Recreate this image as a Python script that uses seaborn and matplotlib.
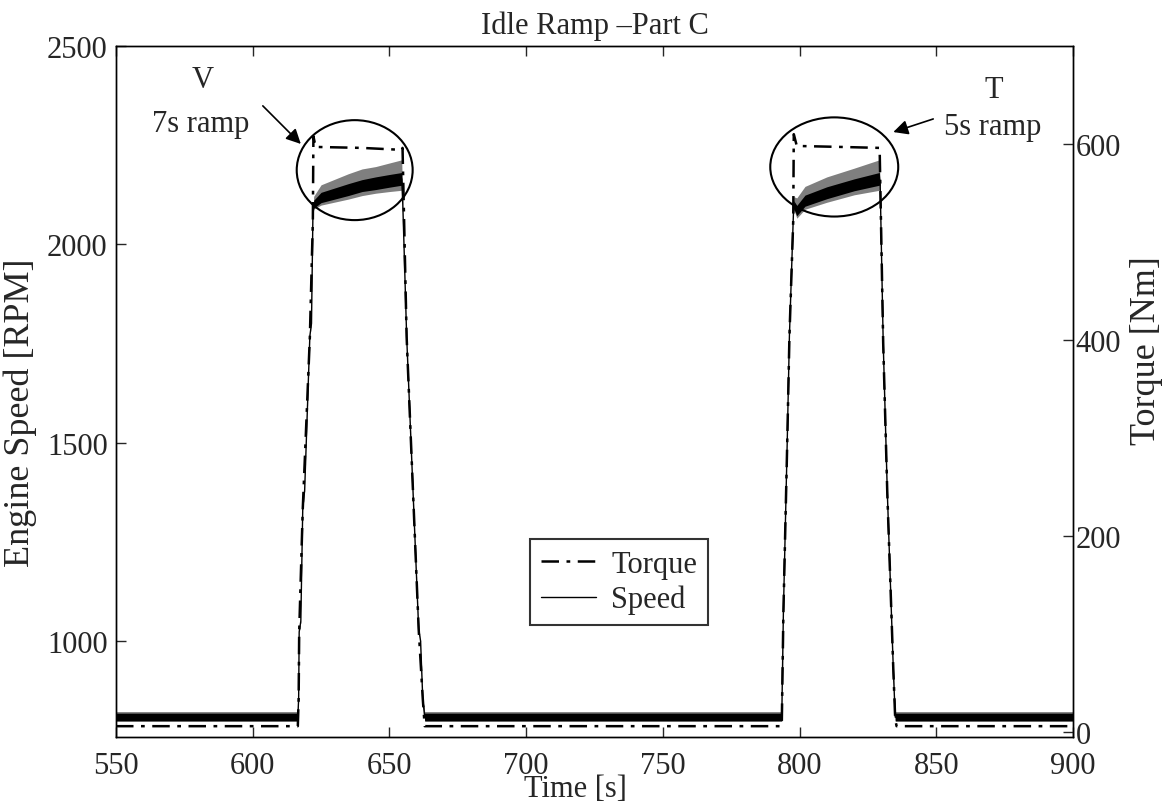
import matplotlib
matplotlib.use("Agg")
import matplotlib.pyplot as plt
from matplotlib.patches import Ellipse
import numpy as np
import pandas as pd
import seaborn as sns

# ---- measured traces (breakpoints) ----
speed_time = [550.0, 616.5, 616.8, 617.0, 617.6, 618.3, 619.0, 620.9, 621.5, 622.0, 622.3,
              625.0, 630.0, 635.0, 640.0, 645.0, 650.0, 654.5,
              654.9, 656.3, 658.9, 660.7, 661.4, 662.2, 662.9,
              700.0, 750.0, 793.5, 794.1, 795.5, 796.3, 797.7, 797.9, 799.0, 802.0,
              810.0, 820.0, 829.2, 829.5, 830.6, 832.1, 834.3, 835.0, 900.0]
speed_rpm = [808, 808, 854, 1023, 1050, 1333, 1380, 1769, 1800, 2064, 2101,
             2118, 2128, 2138, 2148, 2154, 2160, 2165,
             2100, 1769, 1333, 1030, 1000, 854, 808,
             808, 808, 808, 1073, 1502, 1769, 2064, 2100, 2085, 2110,
             2130, 2150, 2165, 2150, 1754, 1376, 929, 808, 808]
# dense noise core of the speed signal (+/- rpm)
speed_core = [10, 10, 1, 1, 1, 1, 1, 1, 1, 1, 10,
              13, 14, 15, 15, 16, 16, 16,
              1, 1, 1, 1, 1, 1, 10,
              10, 10, 10, 1, 1, 1, 1, 10, 13, 14,
              15, 15, 16, 1, 1, 1, 1, 10, 10]
# occasional spikes of the speed signal (+/- rpm)
speed_spike = [14, 14, 1, 1, 1, 1, 1, 1, 1, 1, 20,
               32, 36, 40, 42, 42, 45, 48,
               1, 1, 1, 1, 1, 1, 14,
               14, 14, 14, 1, 1, 1, 1, 20, 32, 36,
               40, 42, 48, 1, 1, 1, 1, 14, 14]

torque_time = [550.0, 616.5, 616.8, 617.0, 618.3, 620.9, 622.0, 622.2, 623.0,
               640.0, 654.5, 654.8, 656.3, 658.9, 660.7, 662.2, 662.9,
               793.5, 794.1, 795.5, 796.3, 797.7, 797.9, 799.0,
               815.0, 829.3, 830.6, 832.1, 834.3, 835.0, 835.5, 900.0]
torque_nm = [6, 6, 34, 102, 227, 403, 522, 608, 597,
             596, 594, 596, 403, 227, 105, 34, 6,
             6, 122, 295, 403, 522, 610, 598,
             597, 596, 397, 244, 64, 13, 6, 6]

# ramp annotations: label, sub-label, text position, arrow tail, arrow head
ramp_tags = ["V", "T"]
ramp_notes = ["7s ramp", "5s ramp"]
tag_pos = [(581.8, 2397), (871.2, 2371)]
note_pos = [(581.1, 2286), (870.8, 2278)]
arrow_tail = [(603.7, 2349), (848.9, 2316)]
arrow_head = [(617.6, 2253), (834.3, 2283)]
# highlighted plateau regions (centre time, centre rpm, width s, height rpm)
ellipse_centres = [(637.3, 2187), (812.7, 2195)]
ellipse_sizes = [(42.4, 252), (46.8, 250)]

x_ticks = [550, 600, 650, 700, 750, 800, 850, 900]
speed_ticks = [1000, 1500, 2000, 2500]
torque_ticks = [0, 200, 400, 600]

sns.set_style("white")
plt.rcParams["font.family"] = ["Liberation Serif", "DejaVu Serif"]
plt.rcParams["mathtext.fontset"] = "stix"

fig = plt.figure(figsize=(11.67, 8.03), dpi=100)
ax = fig.add_axes([0.0994, 0.081, 0.8200, 0.8605])
ax2 = ax.twinx()

speed_df = pd.DataFrame({"time": speed_time, "rpm": speed_rpm,
                         "core": speed_core, "spike": speed_spike})
torque_df = pd.DataFrame({"time": torque_time, "nm": torque_nm})

# noise envelope of the speed signal: spike zone plus dense core
ax.fill_between(speed_df["time"], speed_df["rpm"] - speed_df["spike"] * 0.6,
                speed_df["rpm"] + speed_df["spike"], color="black", alpha=0.5,
                lw=0, zorder=2)
ax.fill_between(speed_df["time"], speed_df["rpm"] - speed_df["core"],
                speed_df["rpm"] + speed_df["core"], color="black", lw=0, zorder=2)
sns.lineplot(data=speed_df, x="time", y="rpm", ax=ax, color="black", lw=1.0,
             estimator=None, sort=False, label="Speed", legend=False, zorder=3)
sns.lineplot(data=torque_df, x="time", y="nm", ax=ax2, color="black", lw=1.8,
             estimator=None, sort=False, label="Torque", legend=False, zorder=3)
torque_line = ax2.lines[-1]
torque_line.set_dashes([7, 3, 1.5, 3])

ax.set_xlim(550, 900)
ax.set_ylim(758, 2500)
ax2.set_ylim(-5, 700)
ax.set_xticks(x_ticks)
ax.set_yticks(speed_ticks)
ax2.set_yticks(torque_ticks)

fs = 22
ax.tick_params(axis="x", direction="in", top=True, bottom=True, length=7,
               width=1, labelsize=fs, pad=10)
ax.tick_params(axis="y", direction="in", left=True, right=False, length=7,
               width=1, labelsize=fs, pad=6)
ax2.tick_params(axis="y", direction="in", right=True, length=7, width=1,
                labelsize=fs, pad=2)
for a in (ax, ax2):
    for s in a.spines.values():
        s.set_color("black")
        s.set_linewidth(1.0)
    a.set_facecolor("none")

ax.set_xlabel("Time [s]", fontsize=fs)
ax.xaxis.set_label_coords(0.48, -0.054)
ax.set_ylabel("Engine Speed [RPM]", fontsize=26)
ax.yaxis.set_label_coords(-0.0825, 0.47)
ax2.set_ylabel("Torque [Nm]", fontsize=26)
ax2.yaxis.set_label_coords(1.060, 0.56)
ax.set_title("Idle Ramp \u2013Part C", fontsize=fs, pad=9)

for tag, note, tp, npos, tail, head in zip(ramp_tags, ramp_notes, tag_pos,
                                           note_pos, arrow_tail, arrow_head):
    ax.text(tp[0], tp[1], tag, fontsize=fs, ha="center", va="baseline")
    ax.text(npos[0], npos[1], note, fontsize=fs, ha="center", va="baseline")
    ax.annotate("", xy=head, xytext=tail,
                arrowprops=dict(arrowstyle="-|>", color="black", lw=1.2,
                                mutation_scale=22, shrinkA=0, shrinkB=0))

for (cx, cy), (w, h) in zip(ellipse_centres, ellipse_sizes):
    ax.add_patch(Ellipse((cx, cy), w, h, fill=False, edgecolor="black", lw=1.5, zorder=4))

handles = [torque_line, ax.lines[-1]]
leg = ax.legend(handles, ["Torque", "Speed"], loc="upper left",
                bbox_to_anchor=(0.433, 0.2865), fontsize=fs, frameon=True,
                fancybox=False, shadow=False, handlelength=1.8,
                handletextpad=0.5, borderpad=0.35, labelspacing=0.2,
                borderaxespad=0)
leg.get_frame().set_edgecolor("black")
leg.get_frame().set_linewidth(1.5)

fig.savefig("out.png", dpi=100, facecolor="white")
